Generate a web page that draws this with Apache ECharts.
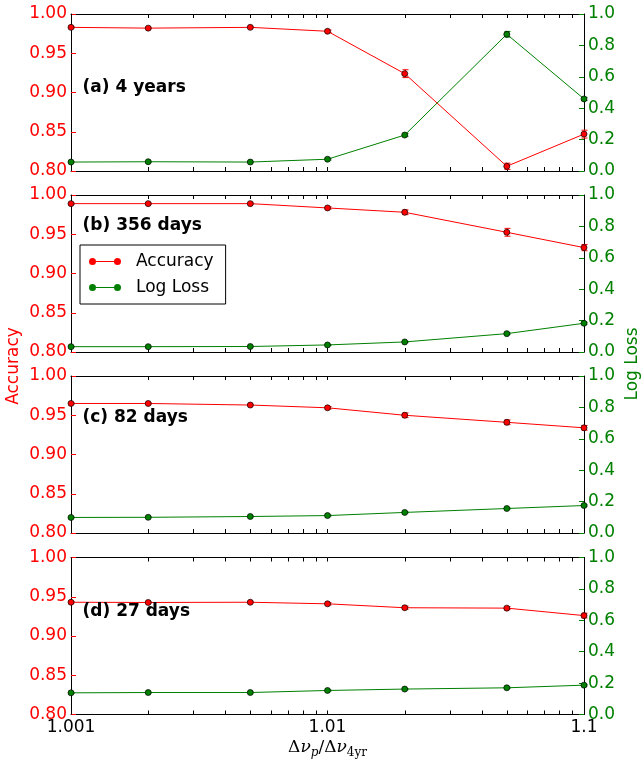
<!DOCTYPE html>
<html><head><meta charset="utf-8">
<script src="https://cdn.jsdelivr.net/npm/echarts@6/dist/echarts.min.js"></script>
<style>html,body{margin:0;padding:0;background:#fff}#c{width:641px;height:763px}</style>
</head><body><div id="c"></div>
<script>
// x = Δν_p/Δν_4yr - 1 (plotted on a log axis)
const xValues = [0.001, 0.002, 0.005, 0.01, 0.02, 0.05, 0.1];
const xTickLabels = ['1.001', '1.01', '1.1'];
const minorTickValues = [0.002,0.003,0.004,0.005,0.006,0.007,0.008,0.009,0.02,0.03,0.04,0.05,0.06,0.07,0.08,0.09];
const panelLabels = ['(a) 4 years', '(b) 356 days', '(c) 82 days', '(d) 27 days'];

const accA = [0.983, 0.982, 0.983, 0.978, 0.924, 0.806, 0.847];
const accErrA = [0.001, 0.001, 0.001, 0.0015, 0.005, 0.004, 0.005];
const lossA = [0.057, 0.059, 0.057, 0.075, 0.229, 0.871, 0.459];
const lossErrA = [0.004, 0.004, 0.004, 0.005, 0.008, 0.018, 0.01];

const accB = [0.989, 0.989, 0.989, 0.9835, 0.978, 0.9525, 0.933];
const accErrB = [0.001, 0.001, 0.001, 0.0015, 0.003, 0.005, 0.004];
const lossB = [0.034, 0.034, 0.035, 0.045, 0.064, 0.117, 0.183];
const lossErrB = [0.003, 0.003, 0.003, 0.003, 0.004, 0.005, 0.006];

const accC = [0.965, 0.965, 0.963, 0.9595, 0.950, 0.941, 0.934];
const accErrC = [0.001, 0.001, 0.001, 0.0015, 0.003, 0.003, 0.003];
const lossC = [0.099, 0.100, 0.105, 0.111, 0.131, 0.156, 0.175];
const lossErrC = [0.003, 0.003, 0.003, 0.003, 0.004, 0.004, 0.005];

const accD = [0.943, 0.9427, 0.943, 0.941, 0.936, 0.9355, 0.926];
const accErrD = [0.001, 0.001, 0.001, 0.0015, 0.002, 0.002, 0.003];
const lossD = [0.138, 0.140, 0.140, 0.153, 0.162, 0.170, 0.187];
const lossErrD = [0.003, 0.003, 0.003, 0.003, 0.004, 0.004, 0.005];

const accuracy = [accA, accB, accC, accD];
const accuracyErr = [accErrA, accErrB, accErrC, accErrD];
const logLoss = [lossA, lossB, lossC, lossD];
const logLossErr = [lossErrA, lossErrB, lossErrC, lossErrD];

const RED = '#ff0000', GREEN = '#008000', FONT = 'DejaVu Sans';
const tops = [14, 195, 376, 557.5];
const PH = 157, LEFT = 71, PW = 513;
const labelCenters = [87.5, 225.5, 418, 611.5];

const chart = echarts.init(document.getElementById('c'), null, {renderer: 'canvas'});

const grid = [], xAxis = [], yAxis = [], series = [];
function fmtX(v) {
  const s = parseFloat((1 + v).toFixed(4)).toString();
  return xTickLabels.indexOf(s) >= 0 ? s : '';
}
function errRender(color) {
  return function (params, api) {
    const x = api.value(0), y = api.value(1), e = api.value(2);
    const lo = api.coord([x, y - e]), hi = api.coord([x, y + e]);
    const cx = Math.round(lo[0]) + 0.5;
    const st = {stroke: color, lineWidth: 1};
    return {type: 'group', children: [
      {type: 'line', shape: {x1: cx, y1: lo[1], x2: cx, y2: hi[1]}, style: st},
      {type: 'line', shape: {x1: cx - 3, y1: lo[1], x2: cx + 3, y2: lo[1]}, style: st},
      {type: 'line', shape: {x1: cx - 3, y1: hi[1], x2: cx + 3, y2: hi[1]}, style: st}
    ]};
  };
}
for (let i = 0; i < 4; i++) {
  const last = i === 3;
  grid.push({left: LEFT, width: PW, top: tops[i], height: PH});
  xAxis.push({
    type: 'log', logBase: 10, min: 0.001, max: 0.1, gridIndex: i, position: 'bottom',
    axisLine: {lineStyle: {color: '#000', width: 1}},
    axisTick: {inside: true, length: 4, lineStyle: {color: '#000'}},
    axisLabel: {show: last, formatter: fmtX, color: '#000', fontSize: 17, fontFamily: FONT, margin: 5},
    splitLine: {show: false},
    name: last ? '{d|Δ}{i|ν}{si|p}{d|/Δ}{i|ν}{s|4yr}' : '',
    nameLocation: 'middle', nameGap: 22,
    nameTextStyle: {
      rich: {
        d: {fontFamily: 'DejaVu Serif', fontSize: 17, color: '#000', lineHeight: 22, verticalAlign: 'middle'},
        i: {fontFamily: 'DejaVu Serif', fontStyle: 'italic', fontSize: 17, color: '#000', lineHeight: 22, verticalAlign: 'middle'},
        si: {fontFamily: 'DejaVu Serif', fontStyle: 'italic', fontSize: 12, color: '#000', lineHeight: 22, verticalAlign: 'middle', padding: [9, 0, 0, 0]},
        s: {fontFamily: 'DejaVu Serif', fontSize: 12, color: '#000', lineHeight: 22, verticalAlign: 'middle', padding: [9, 0, 0, 0]}
      }
    }
  });
  xAxis.push({
    type: 'log', logBase: 10, min: 0.001, max: 0.1, gridIndex: i, position: 'top',
    axisLine: {lineStyle: {color: '#000', width: 1}},
    axisTick: {inside: true, length: 4, lineStyle: {color: '#000'}},
    axisLabel: {show: false}, splitLine: {show: false}
  });
  yAxis.push({
    type: 'value', min: 0.8, max: 1.0, interval: 0.05, gridIndex: i, position: 'left',
    axisLine: {show: true, lineStyle: {color: '#000', width: 1}},
    axisTick: {show: true, inside: true, length: 5, lineStyle: {color: RED}},
    axisLabel: {formatter: v => v.toFixed(2), color: RED, fontSize: 17, fontFamily: FONT, margin: 4},
    splitLine: {show: false}
  });
  yAxis.push({
    type: 'value', min: 0, max: 1, interval: 0.2, gridIndex: i, position: 'right',
    axisLine: {show: true, lineStyle: {color: '#000', width: 1}},
    axisTick: {show: true, inside: true, length: 5, lineStyle: {color: GREEN}},
    axisLabel: {formatter: v => v.toFixed(1), color: GREEN, fontSize: 17, fontFamily: FONT, margin: 4},
    splitLine: {show: false}
  });
  series.push({
    type: 'line', name: 'Accuracy', xAxisIndex: 2 * i, yAxisIndex: 2 * i, z: 3,
    data: xValues.map((x, k) => [x, accuracy[i][k]]),
    symbol: 'circle', symbolSize: 6, showAllSymbol: true,
    lineStyle: {color: RED, width: 1},
    itemStyle: {color: RED, borderColor: '#000', borderWidth: 0.7},
    emphasis: {disabled: true}, animation: false
  });
  series.push({
    type: 'line', name: 'Log Loss', xAxisIndex: 2 * i, yAxisIndex: 2 * i + 1, z: 3,
    data: xValues.map((x, k) => [x, logLoss[i][k]]),
    symbol: 'circle', symbolSize: 6, showAllSymbol: true,
    lineStyle: {color: GREEN, width: 1},
    itemStyle: {color: GREEN, borderColor: '#000', borderWidth: 0.7},
    emphasis: {disabled: true}, animation: false
  });
  // minor ticks (top & bottom)
  series.push({
    type: 'custom', xAxisIndex: 2 * i, yAxisIndex: 2 * i, z: 1, silent: true,
    data: minorTickValues.map(v => [v, 0.9]),
    renderItem: function (params, api) {
      const x = api.value(0);
      const b = api.coord([x, 0.8]), t = api.coord([x, 1.0]);
      const cx = Math.round(b[0]) + 0.5;
      return {type: 'group', children: [
        {type: 'line', shape: {x1: cx, y1: b[1], x2: cx, y2: b[1] - 4}, style: {stroke: '#000', lineWidth: 1}},
        {type: 'line', shape: {x1: cx, y1: t[1], x2: cx, y2: t[1] + 4}, style: {stroke: '#000', lineWidth: 1}}
      ]};
    }
  });
  series.push({
    type: 'custom', name: 'Accuracy', xAxisIndex: 2 * i, yAxisIndex: 2 * i, z: 2, silent: true,
    itemStyle: {color: RED},
    data: xValues.map((x, k) => [x, accuracy[i][k], accuracyErr[i][k]]),
    renderItem: errRender(RED)
  });
  series.push({
    type: 'custom', name: 'Log Loss', xAxisIndex: 2 * i, yAxisIndex: 2 * i + 1, z: 2, silent: true,
    itemStyle: {color: GREEN},
    data: xValues.map((x, k) => [x, logLoss[i][k], logLossErr[i][k]]),
    renderItem: errRender(GREEN)
  });
}

const graphic = panelLabels.map((t, i) => ({
  type: 'text', x: 82.5, y: labelCenters[i], z: 10,
  style: {text: t, font: 'bold 17px "DejaVu Sans"', fill: '#000', textAlign: 'left', textVerticalAlign: 'middle'}
}));
graphic.push({
  type: 'text', x: 14, y: 366, rotation: Math.PI / 2, z: 10,
  style: {text: 'Accuracy', font: '17px "DejaVu Sans"', fill: RED, textAlign: 'center', textVerticalAlign: 'middle'}
});
graphic.push({
  type: 'text', x: 633, y: 364, rotation: Math.PI / 2, z: 10,
  style: {text: 'Log Loss', font: '17px "DejaVu Sans"', fill: GREEN, textAlign: 'center', textVerticalAlign: 'middle'}
});

const legendIcon = 'path://M0,3.5a3.5,3.5 0 1,0 7,0a3.5,3.5 0 1,0 -7,0Z M7,3H25V4H7Z M25,3.5a3.5,3.5 0 1,0 7,0a3.5,3.5 0 1,0 -7,0Z';

chart.setOption({
  animation: false,
  backgroundColor: '#fff',
  grid, xAxis, yAxis, series, graphic,
  legend: {
    data: [
      {name: 'Accuracy', icon: legendIcon, itemStyle: {color: RED, borderWidth: 0}},
      {name: 'Log Loss', icon: legendIcon, itemStyle: {color: GREEN, borderWidth: 0}}
    ],
    orient: 'vertical', left: 80, top: 245,
    itemWidth: 32, itemHeight: 7, itemGap: 9,
    padding: [8, 12, 8, 9],
    borderColor: '#000', borderWidth: 1, backgroundColor: '#fff',
    textStyle: {fontSize: 17, fontFamily: FONT, color: '#000', padding: [0, 0, 0, 10]},
    selectedMode: false, z: 20
  }
});
</script></body></html>
